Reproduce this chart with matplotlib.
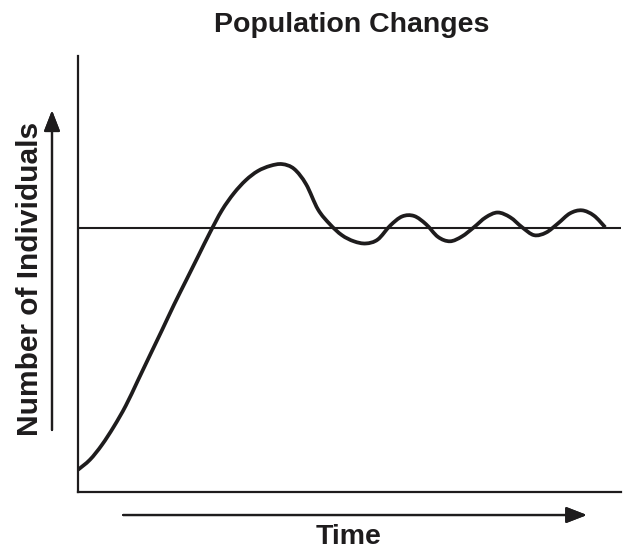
import matplotlib.pyplot as plt
from matplotlib.path import Path
from matplotlib.patches import PathPatch

# Values (arbitrary units, 0-100 on both axes).
time = [0.0, 2.2, 4.4, 6.6, 8.8, 11.0, 13.3, 15.5, 17.7, 19.9, 22.1, 24.3,
        26.5, 28.7, 30.9, 33.1, 35.4, 37.6, 39.8, 42.0, 44.2, 46.4, 48.6, 50.8,
        53.0, 55.2, 57.5, 59.7, 61.9, 64.1, 66.3, 68.5, 70.7, 72.9, 75.1, 77.3,
        79.6, 81.8, 84.0, 86.2, 88.4, 90.6, 92.8, 95.0, 97.1]
individuals = [5.1, 7.4, 10.8, 15.0, 19.8, 25.5, 31.5, 37.2, 43.0, 48.5, 54.0,
               59.5, 64.6, 68.5, 71.5, 73.6, 74.8, 75.2, 74.1, 70.6, 64.8, 61.4,
               58.9, 57.5, 57.0, 57.9, 61.1, 63.2, 63.3, 61.4, 58.5, 57.5, 58.6,
               60.7, 63.0, 64.1, 63.0, 60.7, 58.9, 59.5, 61.6, 63.9, 64.6, 63.4,
               60.7]
carrying_capacity = 60.5

ink = '#1e1c1d'
plt.rcParams['font.family'] = ['Liberation Sans', 'DejaVu Sans']


def smooth_path(xs, ys):
    # Catmull-Rom through the read points, drawn as cubic Bezier segments
    pts = list(zip(xs, ys))
    verts = [pts[0]]
    codes = [Path.MOVETO]
    for i in range(len(pts) - 1):
        p0 = pts[i - 1] if i > 0 else pts[i]
        p1, p2 = pts[i], pts[i + 1]
        p3 = pts[i + 2] if i + 2 < len(pts) else pts[i + 1]
        c1 = (p1[0] + (p2[0] - p0[0]) / 6, p1[1] + (p2[1] - p0[1]) / 6)
        c2 = (p2[0] - (p3[0] - p1[0]) / 6, p2[1] - (p3[1] - p1[1]) / 6)
        verts += [c1, c2, p2]
        codes += [Path.CURVE4] * 3
    return Path(verts, codes)


fig = plt.figure(figsize=(6.25, 5.52), dpi=100)
ax = fig.add_axes([0.1248, 0.1087, 0.8688, 0.7899])

ax.axhline(carrying_capacity, color=ink, linewidth=1.5)
ax.add_patch(PathPatch(smooth_path(time, individuals), facecolor='none',
                       edgecolor=ink, linewidth=2.7, capstyle='butt'))

ax.set_xlim(0, 100)
ax.set_ylim(0, 100)
ax.set_xticks([])
ax.set_yticks([])
for side in ['top', 'right']:
    ax.spines[side].set_visible(False)
for side in ['left', 'bottom']:
    ax.spines[side].set_color(ink)
    ax.spines[side].set_linewidth(1.6)

arrow = dict(arrowstyle='-|>,head_length=0.9,head_width=0.35', color=ink,
             lw=1.6, mutation_scale=14, shrinkA=0, shrinkB=0)
fig.add_artist(plt.annotate('', xy=(0.0832, 0.800), xytext=(0.0832, 0.221),
                            xycoords='figure fraction', arrowprops=arrow))
fig.add_artist(plt.annotate('', xy=(0.939, 0.067), xytext=(0.197, 0.067),
                            xycoords='figure fraction', arrowprops=arrow))

fig.text(0.563, 0.955, 'Population Changes', ha='center', va='center',
         fontsize=20.5, fontweight='bold', color=ink)
fig.text(0.048, 0.4946, 'Number of Individuals', ha='center', va='center',
         rotation=90, fontsize=21.5, fontweight='bold', color=ink)
fig.text(0.558, 0.027, 'Time', ha='center', va='center',
         fontsize=20.5, fontweight='bold', color=ink)

fig.savefig('out.png', dpi=100)
